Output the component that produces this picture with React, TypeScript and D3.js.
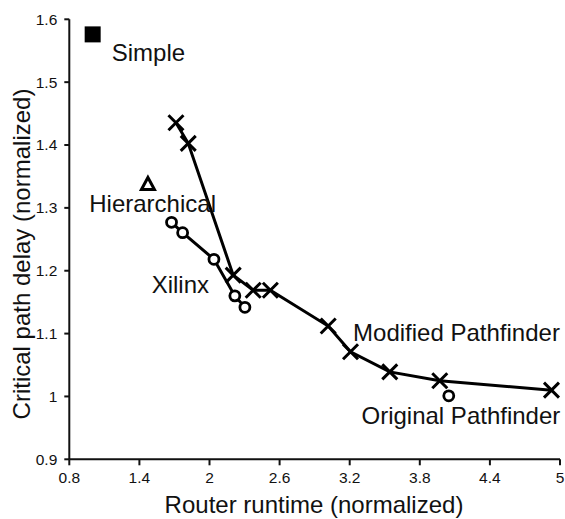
import React from "react";
import * as d3 from "d3";

// Modified Pathfinder (crosses, connected)
const modifiedX = [1.713, 1.818, 2.203, 2.374, 2.521, 3.016, 3.207, 3.543, 3.971, 4.927];
const modifiedY = [1.4355, 1.4027, 1.193, 1.169, 1.169, 1.112, 1.071, 1.039, 1.025, 1.010];

// Xilinx (circles, connected)
const xilinxX = [1.675, 1.77, 2.038, 2.217, 2.303];
const xilinxY = [1.277, 1.2605, 1.2182, 1.16, 1.1418];

// single points
const originalPF = { x: 4.048, y: 1.001 };
const hierarchical = { x: 1.473, y: 1.338 };
const simple = { x: 1.0, y: 1.576 };

const xTicks = [0.8, 1.4, 2, 2.6, 3.2, 3.8, 4.4, 5];
const yTicks = [0.9, 1, 1.1, 1.2, 1.3, 1.4, 1.5, 1.6];

// point labels, placed in data units
const labels = [
  { text: "Simple", x: 1.163, y: 1.534 },
  { text: "Hierarchical", x: 0.971, y: 1.2941 },
  { text: "Xilinx", x: 1.505, y: 1.1651 },
  { text: "Modified Pathfinder", x: 3.229, y: 1.088 },
  { text: "Original Pathfinder", x: 3.301, y: 0.956 },
];

const W = 565;
const H = 519;
const font = "'Liberation Sans', Arial, Helvetica, sans-serif";

export default function App() {
  const x = d3.scaleLinear().domain([0.8, 5]).range([69.3, 560]);
  const y = d3.scaleLinear().domain([0.9, 1.6]).range([459.3, 19.3]);

  const lineGen = d3
    .line<[number, number]>()
    .x((d) => x(d[0]))
    .y((d) => y(d[1]));

  const modPath = lineGen(modifiedX.map((v, i) => [v, modifiedY[i]] as [number, number]));
  const xilPath = lineGen(xilinxX.map((v, i) => [v, xilinxY[i]] as [number, number]));

  const cross = (cx: number, cy: number, k: number) => {
    const s = 7.5;
    return (
      <path
        key={"c" + k}
        d={`M${cx - s},${cy - s}L${cx + s},${cy + s}M${cx - s},${cy + s}L${cx + s},${cy - s}`}
        stroke="#000"
        strokeWidth={3}
        fill="none"
      />
    );
  };

  const tx = x(hierarchical.x);
  const ty = y(hierarchical.y);

  return (
    <svg
      width={W}
      height={H}
      style={{ position: "absolute", left: 0, top: 0, background: "#fff" }}
      fontFamily={font}
    >
      {/* axes */}
      <line x1={x(0.8)} x2={x(0.8)} y1={y(1.6)} y2={y(0.9)} stroke="#111" strokeWidth={2} />
      <line x1={x(0.8)} x2={x(5)} y1={y(0.9)} y2={y(0.9)} stroke="#111" strokeWidth={2} />
      {yTicks.map((t) => (
        <g key={"y" + t}>
          <line x1={x(0.8) - 5} x2={x(0.8)} y1={y(t)} y2={y(t)} stroke="#111" strokeWidth={2} />
          <text x={x(0.8) - 12} y={y(t)} dy="0.35em" textAnchor="end" fontSize={15.5} fill="#111">
            {String(t)}
          </text>
        </g>
      ))}
      {xTicks.map((t) => (
        <g key={"x" + t}>
          <line x1={x(t)} x2={x(t)} y1={y(0.9)} y2={y(0.9) + 6} stroke="#111" strokeWidth={2} />
          <text x={x(t)} y={483} textAnchor="middle" fontSize={15.5} fill="#111">
            {String(t)}
          </text>
        </g>
      ))}
      <text x={314} y={513} textAnchor="middle" fontSize={24} fill="#111">
        Router runtime (normalized)
      </text>
      <text
        transform={`translate(30,254) rotate(-90)`}
        textAnchor="middle"
        fontSize={24}
        fill="#111"
      >
        Critical path delay (normalized)
      </text>

      {/* series */}
      <path d={xilPath || ""} fill="none" stroke="#000" strokeWidth={3} />
      <path d={modPath || ""} fill="none" stroke="#000" strokeWidth={3} />
      {modifiedX.map((v, i) => cross(x(v), y(modifiedY[i]), i))}
      {xilinxX.map((v, i) => (
        <circle key={"o" + i} cx={x(v)} cy={y(xilinxY[i])} r={5} fill="#fff" stroke="#000" strokeWidth={2.8} />
      ))}
      <circle cx={x(originalPF.x)} cy={y(originalPF.y)} r={5} fill="#fff" stroke="#000" strokeWidth={2.8} />
      <path
        d={`M${tx},${ty - 6.5}L${tx + 6.5},${ty + 5.5}L${tx - 6.5},${ty + 5.5}Z`}
        fill="#fff"
        stroke="#000"
        strokeWidth={3}
      />
      <rect x={x(simple.x) - 8} y={y(simple.y) - 8} width={16} height={16} fill="#000" />

      {labels.map((l) => (
        <text key={l.text} x={x(l.x)} y={y(l.y)} fontSize={24} fill="#111">
          {l.text}
        </text>
      ))}
    </svg>
  );
}
